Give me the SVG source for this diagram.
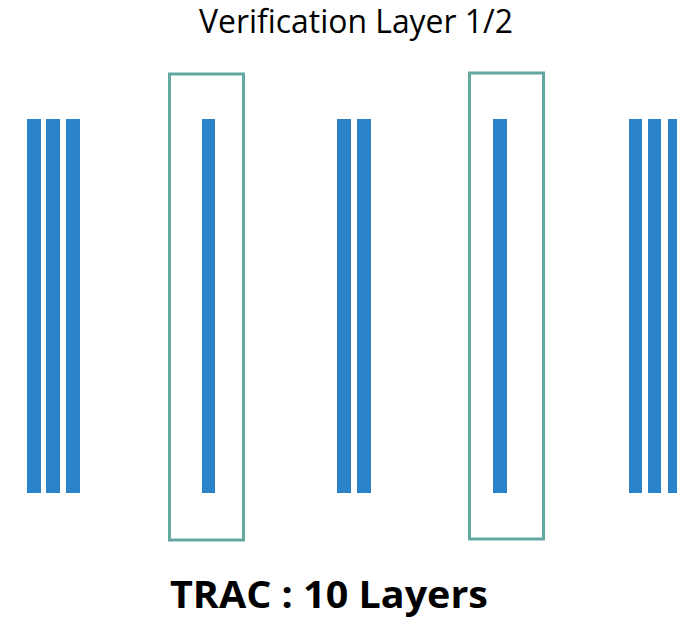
<svg xmlns="http://www.w3.org/2000/svg" width="677" height="620" viewBox="0 0 677 620">
<style>
.bar{fill:#2b84c9}
.box{fill:none;stroke:#62a8a0;stroke-width:3}
.t{font-family:"Open Sans","Liberation Sans",Arial,sans-serif;fill:#000}
</style>
<rect width="677" height="620" fill="#fff"/>
<text class="t" x="199" y="33" font-size="32" textLength="314" lengthAdjust="spacingAndGlyphs">Verification Layer 1/2</text>
<g id="group1">
<rect class="bar" x="27" y="119" width="14" height="374"/>
<rect class="bar" x="46" y="119" width="14" height="374"/>
<rect class="bar" x="66" y="119" width="14" height="374"/>
</g>
<g id="verify1">
<rect class="box" x="169.5" y="74" width="74" height="466"/>
<rect class="bar" x="202" y="119" width="13" height="374"/>
</g>
<g id="group2">
<rect class="bar" x="337" y="119" width="14" height="374"/>
<rect class="bar" x="357" y="119" width="14" height="374"/>
</g>
<g id="verify2">
<rect class="box" x="469.5" y="73" width="74" height="466"/>
<rect class="bar" x="493" y="119" width="14" height="374"/>
</g>
<g id="group3">
<rect class="bar" x="629" y="119" width="13" height="374"/>
<rect class="bar" x="648" y="119" width="13" height="374"/>
<rect class="bar" x="668" y="119" width="13" height="374"/>
</g>
<g id="connectors"/>
<text class="t" x="170" y="608" font-size="38" font-weight="bold" textLength="318" lengthAdjust="spacingAndGlyphs">TRAC : 10 Layers</text>
</svg>
